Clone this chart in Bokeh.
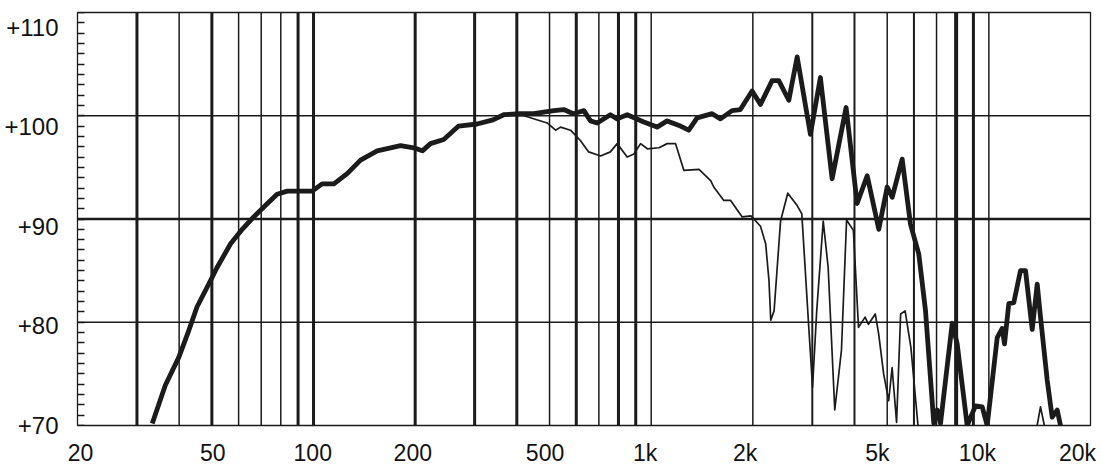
from bokeh.plotting import figure
from bokeh.models import (ColumnDataSource, Range1d, LinearAxis, LogAxis, LogScale,
                          LinearScale, FixedTicker)
from bokeh.embed import file_html
from bokeh.resources import INLINE

# ---- data -------------------------------------------------------------
# thick curve (on-axis response), frequency in Hz, level in dB
freq_a = [33.3, 36.4, 39.9, 42.5, 45.2, 49.5, 51.8, 56.8, 61.5, 66.5, 72, 78.0,
          83.6, 99.1, 106, 114.9, 125.8, 137.8, 154.4, 181, 198, 210, 222, 243,
          269, 305, 340, 366, 410, 449, 515, 551, 588, 632, 661, 692, 757, 793,
          849, 951, 1041, 1115, 1221, 1292, 1368, 1515, 1604, 1736, 1837, 1990,
          2107, 2281, 2387, 2556, 2706, 2962, 3170, 3434, 3778, 4073, 4363, 4721,
          5000, 5172, 5538, 5860, 6202, 6493, 6870, 7032, 7192, 7789, 8058, 8627,
          9130, 9556, 9886, 10586, 10952, 11126, 11456, 11854, 12408, 12841,
          13441, 13906, 14222, 14886, 15400, 15937, 16300]
db_a = [70.2, 73.9, 76.6, 79.0, 81.5, 84.0, 85.3, 87.6, 89.0, 90.2, 91.3, 92.4,
        92.7, 92.7, 93.4, 93.4, 94.4, 95.7, 96.6, 97.1, 96.9, 96.6, 97.3, 97.7,
        99.0, 99.2, 99.6, 100.1, 100.2, 100.2, 100.5, 100.6, 100.2, 100.5, 99.5,
        99.3, 100.1, 99.7, 100.1, 99.4, 98.9, 99.5, 99.0, 98.6, 99.8, 100.2, 99.7,
        100.5, 100.6, 102.4, 101.1, 103.4, 103.4, 101.5, 105.7, 98.2, 103.7, 93.9,
        100.8, 91.5, 94.2, 89.0, 93.1, 92.1, 95.8, 89.5, 86.6, 81.1, 70.2, 71.5,
        70.2, 79.9, 77.9, 70.0, 71.9, 71.8, 70.0, 78.5, 79.4, 77.9, 81.8, 81.9,
        85.0, 85.0, 79.3, 83.7, 80.5, 74.4, 70.8, 71.5, 70.0]

# thin curve (off-axis response)
freq_b = [340, 366, 420, 492, 521, 539, 577, 617, 653, 708, 757, 793, 849, 889,
          930, 974, 1055, 1115, 1181, 1250, 1386, 1502, 1532, 1641, 1719, 1860,
          1974, 2107, 2183, 2233, 2260, 2312, 2416, 2538, 2706, 2793, 2925, 3005,
          3092, 3232, 3343, 3497, 3660, 3790, 3970, 4111, 4300, 4400, 4609, 4716,
          4880, 5050, 5170, 5330, 5480, 5650, 5875, 6160, 6500, 8000, 12000,
          13500, 13900, 14222, 14600, 15000]
db_b = [99.6, 100.1, 100.0, 99.3, 98.6, 98.9, 98.6, 97.6, 96.5, 96.1, 96.5, 97.3,
        96.0, 96.3, 97.3, 96.8, 96.9, 97.3, 97.3, 94.7, 94.8, 93.7, 93.1, 91.8,
        91.8, 90.2, 90.3, 89.3, 87.6, 84.0, 80.2, 81.1, 89.8, 92.5, 91.3, 90.5,
        79.8, 73.7, 81.1, 89.8, 85.3, 71.5, 77.3, 89.9, 88.9, 79.5, 80.5, 79.8,
        80.8, 78.9, 75.0, 72.4, 75.6, 70.3, 80.8, 81.1, 77.6, 70.2, 66.0, 64.0,
        64.0, 68.0, 70.0, 71.8, 70.0, 67.0]

# grid / ticks / tick labels
grid_freqs = [30, 40, 50, 60, 70, 80, 90, 100, 200, 300, 400, 500, 600, 700, 800,
              900, 1000, 2000, 3000, 4000, 5000, 6000, 7000, 8000, 9000, 10000]
grid_levels = [80, 90, 100]
minor_levels = list(range(70, 111))
x_tick_vals = [20, 50, 100, 200, 500, 1000, 2000, 5000, 10000, 20000]
x_tick_text = ["20", "50", "100", "200", "500", "1k", "2k", "5k", "10k", "20k"]
y_tick_vals = [70, 80, 90, 100, 110]
y_tick_text = ["+70", "+80", "+90", "+100", "+110"]

# ---- styles -----------------------------------------------------------
INK = "#1b1b1b"
grid_widths = [3, 1.5, 3, 1.5, 1.5, 1.5, 3, 3, 3, 3, 3, 1.5, 3, 1.5, 3, 3, 1.5,
               1.5, 2, 2, 1.5, 2, 1.5, 4, 3, 1.5]
level_widths = [1.5, 2.5, 1.5]

p = figure(width=1096, height=469, x_axis_type="log",
           x_range=Range1d(20, 20000), y_range=Range1d(70, 110),
           output_backend="svg", toolbar_location=None,
           min_border_left=77, min_border_right=6,
           min_border_top=12, min_border_bottom=44)

p.grid.visible = False
p.xaxis.visible = False
p.yaxis.visible = False
p.outline_line_color = INK
p.outline_line_width = 1.3
p.background_fill_color = "white"
p.border_fill_color = "white"

# ranges used only to place the printed tick labels (they sit slightly off the lines)
p.extra_x_ranges = {"lab": Range1d(19.59, 21895)}
p.extra_x_scales = {"lab": LogScale()}
p.extra_y_ranges = {"lab": Range1d(70, 111.5)}
p.extra_y_scales = {"lab": LinearScale()}

xlab = LogAxis(x_range_name="lab", ticker=FixedTicker(ticks=x_tick_vals),
               major_label_overrides=dict(zip(x_tick_vals, x_tick_text)))
ylab = LinearAxis(y_range_name="lab", ticker=FixedTicker(ticks=y_tick_vals),
                  major_label_overrides=dict(zip(y_tick_vals, y_tick_text)))
for ax, size, stand in ((xlab, "23px", 14), (ylab, "24px", 19)):
    ax.axis_line_color = None
    ax.major_tick_line_color = None
    ax.minor_tick_line_color = None
    ax.major_tick_in = 0
    ax.major_tick_out = 0
    ax.minor_tick_in = 0
    ax.minor_tick_out = 0
    ax.major_label_standoff = stand
    ax.major_label_text_font = "Liberation Sans"
    ax.major_label_text_font_size = size
    ax.major_label_text_color = "#111111"
p.add_layout(xlab, "below")
p.add_layout(ylab, "left")

# 1 dB inner tick marks on the left edge: an unlabeled axis fixed at the frame edge
ticks_axis = LinearAxis(ticker=FixedTicker(ticks=[], minor_ticks=minor_levels),
                        fixed_location=20)
ticks_axis.axis_line_color = None
ticks_axis.major_tick_line_color = None
ticks_axis.minor_tick_in = 7
ticks_axis.minor_tick_out = 0
ticks_axis.minor_tick_line_color = INK
ticks_axis.minor_tick_line_width = 1.5
p.add_layout(ticks_axis, "left")

# vertical grid lines
vsrc = ColumnDataSource(dict(x=grid_freqs, y0=[70] * len(grid_freqs),
                             y1=[110] * len(grid_freqs), w=grid_widths))
p.segment(x0="x", x1="x", y0="y0", y1="y1", line_width="w",
          line_color=INK, source=vsrc)
# horizontal grid lines
hsrc = ColumnDataSource(dict(y=grid_levels, x0=[20] * len(grid_levels),
                             x1=[20000] * len(grid_levels), w=level_widths))
p.segment(x0="x0", x1="x1", y0="y", y1="y", line_width="w",
          line_color=INK, source=hsrc)

# curves
p.line(freq_b, db_b, line_width=1.7, line_color=INK, line_join="round")
p.line(freq_a, db_a, line_width=4.8, line_color=INK, line_join="round")

open("out.html", "w").write(file_html(p, INLINE))
